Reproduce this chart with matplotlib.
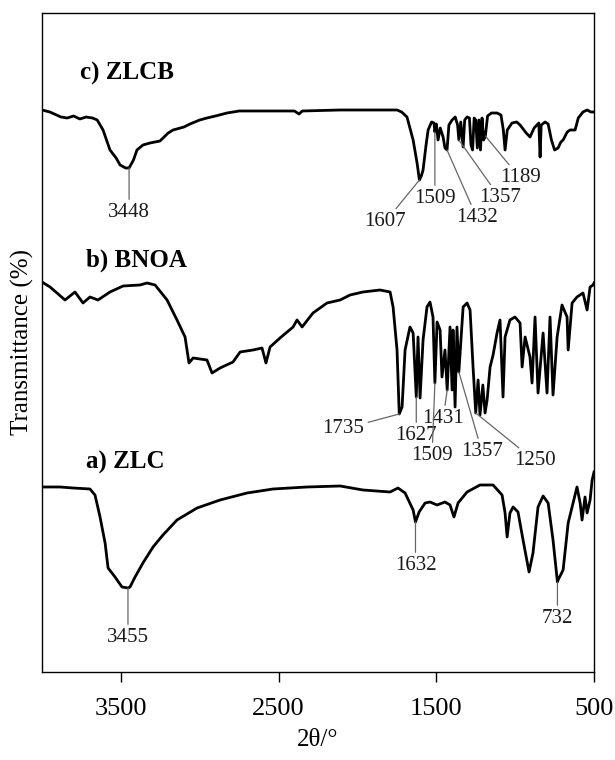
import numpy as np
import matplotlib.pyplot as plt

plt.rcParams['font.family'] = ['Liberation Serif', 'DejaVu Serif']

# wavenumber (cm-1) and stacked transmittance (a.u.) for each sample
zlcb_wn = [4000, 3950, 3880, 3840, 3800, 3760, 3720, 3680, 3650, 3613, 3569, 3530,
           3505, 3470, 3448, 3420, 3398, 3360, 3315, 3252, 3200, 3169, 3100, 3062,
           3000, 2954, 2900, 2827, 2750, 2637, 2400, 2370, 2350, 2110, 1900, 1749,
           1720, 1686, 1647, 1622, 1607, 1595, 1584, 1565, 1552, 1530, 1515, 1509,
           1500, 1489, 1475, 1457, 1445, 1432, 1420, 1400, 1380, 1365, 1357, 1345,
           1330, 1320, 1305, 1290, 1280, 1270, 1260, 1250, 1240, 1230, 1220, 1210,
           1200, 1189, 1175, 1150, 1115, 1090, 1075, 1064, 1050, 1020, 990, 969,
           930, 906, 880, 850, 842, 835, 810, 791, 770, 750, 728, 710,
           696, 670, 652, 620, 600, 570, 544, 520, 500]
zlcb_t = [562, 560, 555, 554, 556, 553, 555, 554, 552, 542, 522, 514,
          507, 504, 504, 512, 522, 527, 529, 531, 539, 542, 545, 548,
          552, 554, 556, 559, 561, 561, 561, 558, 561, 562, 562, 562,
          560, 555, 532, 509, 492, 496, 502, 527, 542, 550, 549, 540,
          548, 532, 544, 535, 524, 522, 547, 552, 555, 547, 532, 550,
          525, 552, 555, 554, 527, 522, 554, 552, 524, 552, 522, 554,
          532, 536, 556, 559, 559, 557, 542, 522, 542, 549, 550, 547,
          539, 535, 544, 549, 515, 547, 550, 548, 532, 522, 524, 530,
          532, 540, 542, 542, 554, 560, 562, 560, 560]

bnoa_wn = [4000, 3949, 3854, 3791, 3740, 3696, 3645, 3569, 3486, 3379, 3334, 3283,
           3207, 3144, 3093, 3068, 3042, 2954, 2922, 2871, 2789, 2744, 2662, 2605,
           2580, 2554, 2491, 2408, 2383, 2351, 2282, 2193, 2110, 2047, 1965, 1857,
           1793, 1774, 1749, 1735, 1717, 1698, 1667, 1647, 1627, 1616, 1603, 1584,
           1559, 1540, 1521, 1509, 1495, 1476, 1464, 1445, 1431, 1413, 1400, 1394,
           1381, 1369, 1357, 1330, 1305, 1286, 1267, 1250, 1235, 1223, 1205, 1191,
           1178, 1159, 1140, 1115, 1096, 1077, 1064, 1033, 1001, 969, 956, 937,
           906, 893, 874, 855, 823, 798, 779, 760, 734, 703, 671, 664,
           639, 608, 570, 544, 525, 506, 500]
bnoa_t = [390, 385, 372, 380, 369, 375, 372, 380, 386, 387, 389, 387,
          372, 352, 335, 309, 314, 312, 299, 304, 310, 320, 322, 324,
          309, 325, 334, 345, 352, 345, 359, 369, 372, 377, 380, 382,
          380, 365, 322, 258, 265, 322, 345, 339, 275, 335, 274, 332,
          365, 370, 355, 289, 350, 342, 295, 322, 282, 345, 282, 342,
          265, 345, 300, 365, 369, 362, 305, 259, 292, 257, 287, 259,
          272, 305, 317, 339, 352, 275, 335, 352, 355, 349, 305, 335,
          315, 289, 355, 279, 339, 279, 355, 277, 335, 367, 355, 322,
          369, 375, 379, 362, 385, 387, 389]

zlc_wn = [4000, 3886, 3803, 3696, 3664, 3632, 3600, 3581, 3537, 3493, 3455, 3442,
          3410, 3360, 3296, 3233, 3144, 3017, 2871, 2700, 2535, 2320, 2110, 1965,
          1793, 1743, 1698, 1647, 1632, 1609, 1571, 1540, 1495, 1445, 1413, 1388,
          1362, 1305, 1223, 1140, 1083, 1064, 1051, 1033, 1013, 982, 950, 912,
          887, 855, 823, 791, 760, 732, 728, 696, 664, 608, 588, 576,
          557, 544, 525, 512, 500]
zlc_t = [185, 185, 184, 183, 177, 155, 129, 104, 95, 85, 84, 85,
         95, 109, 125, 137, 152, 164, 172, 179, 183, 185, 186, 182,
         180, 184, 179, 162, 150, 160, 169, 170, 167, 170, 167, 155,
         169, 180, 187, 187, 177, 159, 135, 159, 165, 160, 132, 100,
         119, 165, 176, 169, 132, 90, 92, 102, 149, 185, 169, 152,
         175, 159, 172, 192, 200]

# band labels: (text, band position, curve level at band, text x, text y)
zlcb_bands = [('3448', 3448, 504, 3448, 459), ('1607', 1607, 492, 1825, 450),
              ('1509', 1509, 540, 1509, 473), ('1432', 1432, 522, 1242, 454),
              ('1357', 1357, 532, 1096, 474), ('1189', 1189, 536, 969, 494)]
bnoa_bands = [('1735', 1735, 258, 2091, 243), ('1627', 1627, 275, 1627, 236),
              ('1431', 1431, 282, 1457, 253), ('1509', 1509, 289, 1527, 216),
              ('1357', 1357, 300, 1210, 220), ('1250', 1250, 259, 874, 211)]
zlc_bands = [('3455', 3455, 84, 3455, 34), ('1632', 1632, 150, 1632, 106),
             ('732', 732, 90, 732, 53)]

names = ['c) ZLCB', 'b) BNOA', 'a) ZLC']
name_pos = [(3760, 599), (3720, 412), (3720, 210)]

fig = plt.figure(figsize=(6.15, 7.6), dpi=100)
ax = fig.add_axes([0.0683, 0.1158, 0.8976, 0.8671])

for wn, t, bands in [(zlcb_wn, zlcb_t, zlcb_bands),
                     (bnoa_wn, bnoa_t, bnoa_bands),
                     (zlc_wn, zlc_t, zlc_bands)]:
    ax.plot(wn, t, color='black', lw=2.0, solid_joinstyle='round')
    for lab, bx, by, tx, ty in bands:
        ax.annotate(lab, xy=(bx, by), xytext=(tx, ty), ha='center', va='center',
                    fontsize=15, color='#1a1a1a',
                    arrowprops=dict(arrowstyle='-', color='0.4', lw=0.9,
                                    shrinkA=1, shrinkB=0))

for name, (x, y) in zip(names, name_pos):
    ax.text(x, y, name, fontsize=18, fontweight='bold', ha='left', va='center')

ax.set_xlim(4000, 500)
ax.set_ylim(0, 659)
ax.set_xticks([3500, 2500, 1500, 500])
ax.set_yticks([])
ax.tick_params(axis='x', direction='out', length=7, width=1, labelsize=19, pad=12)
for s in ax.spines.values():
    s.set_linewidth(1.0)
ax.set_xlabel('2θ/°', fontsize=18, labelpad=6)
ax.set_ylabel('Transmittance (%)', fontsize=18, labelpad=6)

fig.savefig('out.png', dpi=100)
